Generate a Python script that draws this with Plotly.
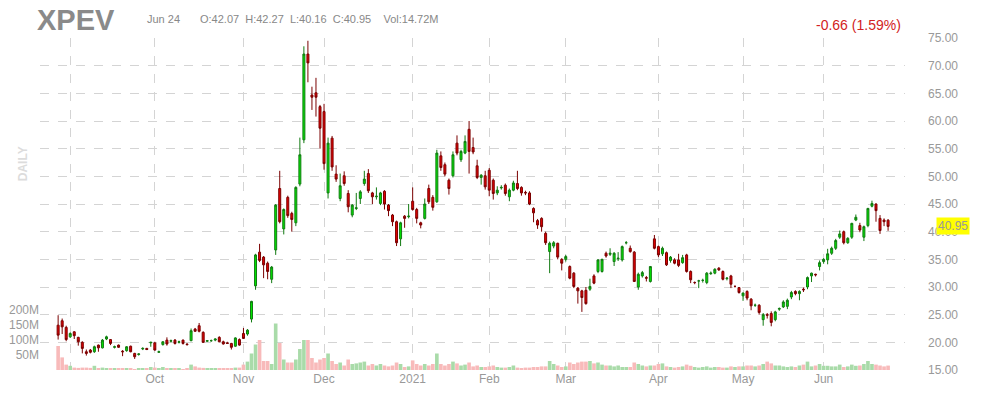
import pandas as pd
import plotly.graph_objects as go

# XPEV daily, Aug 27 2020 .. Jun 24 2021 (207 sessions)
holidays = ["2020-09-07", "2020-11-26", "2020-12-25", "2021-01-01",
            "2021-01-18", "2021-02-15", "2021-04-02", "2021-05-31"]
dates = [d for d in pd.bdate_range("2020-08-27", "2021-06-24")
         if d.strftime("%Y-%m-%d") not in holidays]

opens = [23.1, 23.9, 22.7, 21.0, 21.9, 20.9, 20.0, 18.3, 18.6, 18.3, 19.5, 19.0, 20.6, 20.5, 19.1, 19.5, 18.4, 18.5, 19.3, 18.0,
         17.8, 18.8, 18.9, 19.9, 19.9, 18.2, 19.6, 20.4, 20.2, 20.4, 20.0, 20.4, 19.7, 20.3, 22.4, 23.0, 21.8, 20.2, 20.3, 20.4,
         20.9, 20.1, 19.9, 19.8, 19.3, 20.5, 21.6, 21.5, 24.2, 30.2, 36.3, 35.4, 34.3, 31.4, 36.7, 47.8, 40.5, 46.2, 43.3, 41.6,
         48.6, 56.6, 72.1, 64.7, 65.1, 62.6, 61.7, 47.0, 56.9, 50.4, 46.0, 50.1, 46.9, 43.0, 44.2, 46.0, 48.7, 50.5, 47.0, 46.3,
         45.1, 47.3, 44.8, 43.0, 41.8, 38.7, 42.8, 42.7, 45.5, 44.0, 41.6, 42.4, 47.8, 46.2, 45.4, 53.7, 52.1, 49.3, 50.1, 56.0,
         53.0, 54.2, 58.5, 55.2, 51.9, 49.8, 50.1, 51.1, 49.3, 47.0, 47.9, 48.4, 46.3, 47.5, 48.7, 48.0, 47.1, 47.0, 44.2, 42.0,
         42.4, 39.7, 36.4, 37.4, 37.9, 35.0, 35.0, 33.7, 32.5, 29.8, 29.3, 29.4, 29.6, 32.0, 32.8, 32.8, 36.1, 35.9, 34.6, 35.1,
         34.9, 38.0, 37.0, 36.3, 30.0, 32.0, 31.7, 31.0, 38.7, 37.3, 36.0, 36.2, 34.8, 34.9, 34.9, 34.4, 35.8, 32.8, 30.8, 31.1,
         31.2, 30.8, 32.4, 32.5, 33.4, 32.8, 31.5, 32.0, 30.1, 29.9, 28.4, 29.2, 27.8, 26.7, 26.7, 24.1, 25.0, 25.2, 24.1, 26.0,
         26.4, 26.5, 28.2, 29.2, 28.8, 29.6, 30.0, 32.0, 32.3, 33.7, 34.6, 34.9, 36.1, 37.0, 39.0, 40.0, 38.0, 39.0, 42.1, 41.1,
         39.0, 41.1, 44.6, 45.0, 42.4, 42.1, 42.07]
highs = [24.9, 24.3, 23.0, 21.8, 22.0, 21.0, 20.2, 18.7, 18.8, 19.4, 19.6, 20.6, 21.2, 20.6, 19.4, 19.6, 18.6, 19.3, 19.4, 18.1,
         18.0, 19.1, 19.0, 20.1, 20.1, 18.5, 20.2, 20.9, 20.5, 20.6, 20.3, 20.5, 19.8, 22.5, 22.6, 23.5, 22.0, 20.4, 20.5, 20.7,
         21.1, 20.3, 20.1, 19.9, 20.9, 20.7, 22.6, 22.4, 27.5, 36.0, 37.8, 35.6, 34.6, 33.8, 45.0, 51.0, 44.2, 46.5, 43.6, 48.2,
         57.0, 73.5, 74.5, 66.2, 67.8, 62.9, 63.1, 57.0, 57.3, 52.0, 50.5, 50.9, 47.5, 45.0, 47.0, 47.5, 51.0, 51.3, 47.2, 48.0,
         47.2, 47.5, 45.0, 43.2, 42.0, 41.8, 43.0, 45.0, 48.0, 44.3, 41.8, 46.0, 48.5, 46.6, 54.8, 54.5, 52.5, 49.6, 54.5, 57.4,
         54.8, 57.4, 60.0, 57.0, 53.0, 50.4, 51.0, 51.5, 49.6, 48.2, 48.4, 48.7, 47.8, 49.2, 51.0, 48.2, 47.4, 47.3, 44.4, 42.3,
         42.6, 40.0, 38.2, 38.3, 38.0, 35.2, 35.8, 33.9, 32.7, 30.0, 29.5, 30.0, 31.5, 32.3, 35.0, 35.1, 36.4, 37.0, 36.3, 36.3,
         37.5, 38.3, 37.5, 36.5, 32.6, 32.9, 32.0, 33.8, 39.4, 37.5, 37.3, 36.4, 35.6, 35.2, 36.0, 35.8, 36.0, 33.0, 31.0, 31.3,
         31.5, 32.7, 32.8, 33.4, 33.6, 33.0, 31.8, 32.2, 30.3, 30.0, 29.0, 29.4, 28.0, 27.0, 26.9, 25.3, 25.3, 25.6, 25.7, 26.3,
         27.6, 27.9, 29.3, 29.4, 29.4, 29.9, 31.9, 32.6, 32.4, 34.8, 35.2, 36.9, 37.3, 38.7, 40.2, 40.2, 39.0, 41.6, 43.1, 41.6,
         41.1, 44.3, 45.6, 45.1, 43.0, 42.4, 42.27]
lows = [20.5, 21.5, 20.2, 20.8, 20.6, 19.4, 18.0, 17.6, 18.0, 18.1, 18.3, 18.9, 20.4, 19.5, 18.9, 19.0, 17.5, 18.3, 18.2, 17.0,
        17.6, 18.6, 18.6, 19.2, 18.5, 18.1, 19.4, 19.4, 20.0, 19.6, 19.8, 19.6, 19.4, 20.2, 21.9, 21.8, 19.9, 20.1, 20.1, 20.2,
        20.0, 19.6, 19.7, 18.7, 19.2, 19.4, 20.6, 21.2, 23.6, 29.5, 34.5, 31.6, 31.4, 30.7, 35.8, 41.5, 39.5, 42.5, 40.0, 41.0,
        48.2, 56.0, 67.0, 62.0, 60.8, 55.0, 51.2, 46.0, 51.0, 49.0, 45.5, 48.3, 43.5, 42.6, 43.9, 45.0, 48.3, 47.0, 45.0, 45.8,
        44.8, 44.0, 42.8, 41.0, 37.4, 37.4, 40.7, 42.4, 43.8, 41.5, 40.6, 42.2, 45.0, 43.8, 45.2, 51.0, 50.0, 46.7, 49.8, 53.8,
        52.6, 54.0, 50.5, 54.0, 49.5, 48.5, 47.6, 46.4, 45.8, 46.6, 47.6, 46.5, 45.5, 47.3, 47.5, 46.5, 46.6, 44.8, 41.7, 40.5,
        40.0, 37.6, 32.5, 37.0, 35.0, 33.0, 34.6, 31.4, 29.8, 27.0, 25.5, 26.8, 29.3, 30.5, 32.5, 32.6, 35.3, 35.6, 33.8, 34.7,
        34.6, 37.7, 36.2, 30.9, 29.5, 31.7, 31.0, 30.8, 36.8, 35.4, 35.6, 33.8, 34.4, 34.1, 33.6, 34.2, 32.6, 30.7, 30.5, 29.8,
        30.8, 30.5, 32.2, 32.3, 32.9, 31.2, 31.2, 29.8, 29.9, 28.8, 27.5, 27.6, 25.8, 26.4, 25.0, 23.0, 24.3, 22.9, 23.8, 25.7,
        26.2, 26.0, 27.8, 28.5, 27.6, 29.1, 29.6, 30.9, 31.9, 33.0, 34.2, 34.1, 35.8, 36.7, 38.7, 37.7, 37.8, 38.7, 41.9, 39.9,
        38.3, 40.8, 44.4, 41.8, 39.6, 41.0, 40.16]
closes = [21.3, 22.8, 20.5, 21.6, 21.2, 20.1, 18.9, 18.0, 18.2, 19.2, 19.0, 20.4, 21.0, 19.8, 19.2, 19.1, 18.3, 19.2, 18.3, 17.4,
          17.9, 18.9, 18.7, 20.0, 18.6, 18.3, 20.1, 19.7, 20.3, 19.8, 20.1, 19.8, 19.6, 22.1, 22.0, 22.0, 20.0, 20.3, 20.3, 20.6,
          20.1, 19.7, 19.8, 19.1, 20.8, 19.5, 20.7, 22.2, 27.4, 35.8, 34.8, 34.0, 32.8, 33.6, 44.8, 41.8, 44.0, 42.9, 42.2, 48.0,
          53.9, 72.1, 70.5, 64.3, 64.3, 58.7, 52.3, 56.0, 51.7, 49.5, 48.3, 48.7, 44.5, 44.8, 44.3, 47.2, 49.5, 47.4, 46.3, 46.4,
          47.0, 45.0, 43.8, 41.8, 38.0, 41.6, 42.4, 42.8, 44.0, 42.4, 41.2, 45.0, 45.4, 44.4, 54.2, 51.6, 50.4, 47.8, 53.9, 54.2,
          54.5, 56.3, 54.5, 54.4, 49.8, 50.2, 48.1, 47.5, 46.9, 47.5, 48.0, 46.9, 47.5, 48.8, 47.8, 47.0, 47.0, 45.0, 43.4, 41.2,
          40.9, 38.0, 37.9, 38.0, 35.4, 34.3, 35.5, 31.6, 30.1, 29.3, 28.1, 27.0, 30.1, 30.7, 34.9, 35.0, 35.6, 36.1, 36.1, 35.2,
          37.3, 38.0, 36.4, 31.0, 32.3, 32.6, 31.6, 33.7, 37.0, 35.8, 37.0, 34.0, 35.4, 34.3, 33.9, 35.3, 32.8, 31.3, 30.8, 31.1,
          31.2, 32.5, 32.5, 33.2, 33.1, 31.4, 31.6, 30.5, 30.1, 29.0, 28.9, 28.0, 26.6, 26.7, 25.4, 25.0, 24.9, 23.6, 25.5, 26.1,
          27.3, 27.6, 29.0, 28.8, 29.2, 29.5, 31.7, 32.5, 32.2, 34.4, 35.0, 36.0, 37.0, 38.4, 39.6, 38.0, 38.8, 41.5, 42.6, 40.3,
          40.9, 44.2, 45.1, 43.8, 40.2, 41.8, 40.95]
volume_m = [80, 42, 18, 14, 8, 7, 8, 8, 7, 14, 5, 8, 6, 5, 5, 4, 6, 4, 4, 3,
            5, 5, 6, 10, 8, 4, 10, 5, 4, 4, 4, 3, 4, 18, 12, 8, 7, 6, 4, 5,
            4, 4, 4, 4, 8, 8, 18, 28, 55, 85, 100, 30, 30, 20, 155, 90, 35, 25, 25, 35,
            70, 100, 100, 40, 25, 35, 40, 55, 30, 20, 25, 15, 35, 20, 22, 25, 28, 15, 20, 15,
            20, 15, 12, 15, 25, 20, 10, 12, 32, 20, 15, 20, 15, 20, 55, 20, 15, 20, 28, 22,
            15, 18, 25, 12, 15, 10, 10, 12, 15, 10, 8, 8, 10, 15, 8, 6, 8, 8, 10, 10,
            12, 12, 30, 20, 15, 10, 12, 25, 20, 25, 28, 28, 30, 22, 25, 18, 15, 15, 12, 15,
            10, 10, 10, 25, 20, 15, 12, 15, 15, 20, 22, 12, 10, 8, 10, 12, 18, 14, 10, 8,
            10, 12, 8, 10, 10, 8, 8, 12, 10, 12, 12, 15, 15, 12, 15, 20, 28, 22, 15, 15,
            12, 10, 12, 10, 15, 18, 28, 12, 15, 20, 14, 14, 12, 12, 18, 10, 12, 18, 14, 15,
            20, 30, 20, 18, 15, 12, 14.72]

idx = list(range(len(dates)))
tickvals, ticktext = [], []
for i, d in enumerate(dates):
    if i > 0 and d.month != dates[i - 1].month:
        tickvals.append(i)
        ticktext.append("" if d.month == 9 else ("2021" if d.month == 1 else d.strftime("%b")))

vol_colors = ["#a9dba9" if c >= o else "#f8baba" for o, c in zip(opens, closes)]

font = "Arial, Liberation Sans, sans-serif"
fig = go.Figure()
fig.add_trace(go.Bar(x=idx, y=volume_m, marker_color=vol_colors, marker_line_width=0,
                     yaxis="y2", width=0.9, hoverinfo="skip"))
fig.add_trace(go.Candlestick(
    x=idx, open=opens, high=highs, low=lows, close=closes,
    increasing=dict(line=dict(color="#127a12", width=1), fillcolor="#00e600"),
    decreasing=dict(line=dict(color="#7a0000", width=1), fillcolor="#e50000"),
    whiskerwidth=0, yaxis="y"))

# the page offsets the figure by ~8px, margins compensate
fig.update_layout(
    width=990, height=400, showlegend=False,
    paper_bgcolor="white", plot_bgcolor="white",
    margin=dict(l=32, r=93, t=30, b=38),
    font=dict(family=font, color="#999", size=11),
    xaxis=dict(range=[-4.5, 210.2], tickvals=tickvals, ticktext=ticktext,
               showgrid=True, gridcolor="#d4d4d4", griddash="dash",
               rangeslider=dict(visible=False), zeroline=False, automargin=False,
               tickfont=dict(size=12, color="#999"), ticks=""),
    yaxis=dict(range=[15, 75], side="right", dtick=5, tickformat=".2f",
               showgrid=True, gridcolor="#d4d4d4", griddash="dash", automargin=False,
               zeroline=False, ticklabelstandoff=22, tickfont=dict(size=12, color="#999")),
    yaxis2=dict(range=[0, 1107], overlaying="y", side="left", automargin=False,
                tickvals=[50, 100, 150, 200], ticktext=["50M", "100M", "150M", "200M"],
                showgrid=False, zeroline=False, tickfont=dict(size=12, color="#999")),
    bargap=0.1,
)

fig.add_annotation(text="<b>XPEV</b>", xref="paper", yref="paper", x=-0.006, y=1.055,
                   xanchor="left", yanchor="middle", showarrow=False,
                   font=dict(size=29, color="#8a8a8a", family=font))
fig.add_annotation(text="Jun 24", xref="paper", yref="paper", x=0.121, y=1.058,
                   xanchor="left", yanchor="middle", showarrow=False,
                   font=dict(size=11, color="#888"))
fig.add_annotation(text="O:42.07&nbsp;&nbsp;H:42.27&nbsp;&nbsp;L:40.16&nbsp;&nbsp;C:40.95&nbsp;&nbsp;&nbsp;&nbsp;Vol:14.72M",
                   xref="paper", yref="paper", x=0.183, y=1.058,
                   xanchor="left", yanchor="middle", showarrow=False,
                   font=dict(size=11, color="#888"))
fig.add_annotation(text="-0.66 (1.59%)", xref="paper", yref="paper", x=0.998, y=1.04,
                   xanchor="right", yanchor="middle", showarrow=False,
                   font=dict(size=14, color="#d22222"))
fig.add_annotation(text="<b>DAILY</b>", xref="paper", yref="paper", x=-0.03, y=0.62,
                   textangle=-90, showarrow=False,
                   font=dict(size=12, color="#dcdcdc"))
fig.add_annotation(text="40.95", xref="paper", yref="y", x=1.055, y=closes[-1],
                   xanchor="center", yanchor="middle", showarrow=False,
                   bgcolor="#ffff00", borderpad=1,
                   font=dict(size=12, color="#999"))

fig.write_html("out.html")
